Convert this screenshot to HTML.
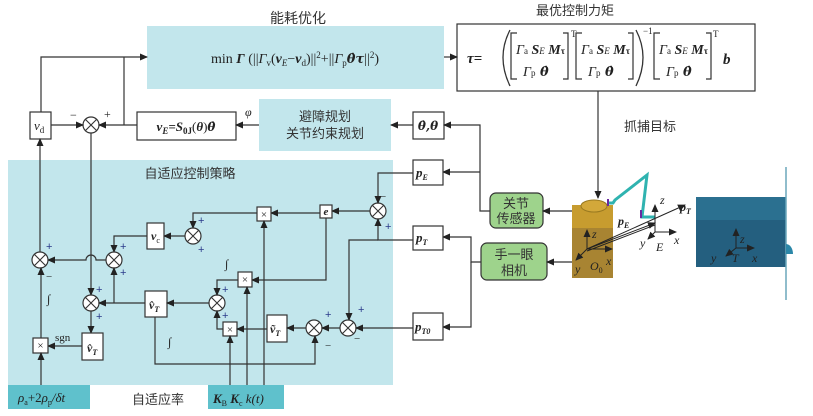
<!DOCTYPE html>
<html><head><meta charset="utf-8"><style>
body{margin:0;background:#fff}
svg{display:block}
text{font-family:"Liberation Serif","Noto Serif CJK SC",serif;fill:#222}
.cn{font-family:"Liberation Sans","Noto Sans CJK SC",sans-serif;fill:#333}
.dv{font-family:"DejaVu Serif",serif}
.l{stroke:#333;stroke-width:1.2;fill:none}
.b{fill:#fff;stroke:#333;stroke-width:1.2}
.pl{fill:#2a3a8a;font-family:"Liberation Sans",sans-serif;font-size:11px}
</style></head><body>
<svg width="813" height="416" viewBox="0 0 813 416" xmlns="http://www.w3.org/2000/svg">
<defs>
<marker id="a" markerWidth="8" markerHeight="8" refX="7" refY="4" orient="auto" markerUnits="userSpaceOnUse"><path d="M0,0.5 L8,4 L0,7.5 z" fill="#222"/></marker>
<g id="sx"><circle r="8" fill="#fff" stroke="#333" stroke-width="1.2"/><path d="M-5.6,-5.6 L5.6,5.6 M-5.6,5.6 L5.6,-5.6" stroke="#333" stroke-width="1.1"/></g>
</defs>

<rect x="8" y="160" width="385" height="225" fill="#c2e6ec"/>
<rect x="147" y="26" width="297" height="63" fill="#c2e6ec"/>
<rect x="259" y="99" width="132" height="52" fill="#c2e6ec"/>
<rect x="8" y="385" width="82" height="24" fill="#5fc1cc"/>
<rect x="208" y="385" width="76" height="24" fill="#5fc1cc"/>

<text class="cn" x="298" y="23" font-size="14" text-anchor="middle">能耗优化</text>
<text x="295" y="63" font-size="14" text-anchor="middle">min <tspan font-weight="bold" font-style="italic">Γ</tspan> (||<tspan font-style="italic">Γ</tspan><tspan font-size="9" dy="3">v</tspan><tspan dy="-3">(</tspan><tspan font-weight="bold" font-style="italic">v</tspan><tspan font-size="9" font-style="italic" dy="3">E</tspan><tspan dy="-3">−</tspan><tspan font-weight="bold" font-style="italic">v</tspan><tspan font-size="9" dy="3">d</tspan><tspan dy="-3">)||</tspan><tspan font-size="9" dy="-5">2</tspan><tspan dy="5">+||</tspan><tspan font-style="italic">Γ</tspan><tspan font-size="9" dy="3">p</tspan><tspan dy="-3" class="dv" font-weight="bold" font-style="italic" font-size="13">θ̇τ</tspan>||<tspan font-size="9" dy="-5">2</tspan><tspan dy="5">)</tspan></text>

<text class="cn" x="575" y="15" font-size="13" text-anchor="middle">最优控制力矩</text>
<rect class="b" x="457" y="24" width="298" height="67"/>
<text x="467" y="63" font-size="15" font-weight="bold" font-style="italic">τ=</text>
<path d="M510,30 Q496,57 510,86" fill="none" stroke="#333" stroke-width="1.3"/>
<path d="M636,30 Q650,57 636,86" fill="none" stroke="#333" stroke-width="1.3"/>
<g font-size="14">
<text x="516" y="54"><tspan font-style="italic">Γ</tspan><tspan font-size="9">a</tspan><tspan font-weight="bold" font-style="italic"> S</tspan><tspan font-size="9" font-style="italic">E</tspan><tspan font-weight="bold" font-style="italic"> M</tspan><tspan font-size="9" font-weight="bold">τ</tspan></text>
<text x="523" y="76"><tspan font-style="italic">Γ</tspan><tspan font-size="9">p</tspan><tspan class="dv" font-weight="bold" font-style="italic" font-size="13"> θ̇</tspan></text>
<text x="581" y="54"><tspan font-style="italic">Γ</tspan><tspan font-size="9">a</tspan><tspan font-weight="bold" font-style="italic"> S</tspan><tspan font-size="9" font-style="italic">E</tspan><tspan font-weight="bold" font-style="italic"> M</tspan><tspan font-size="9" font-weight="bold">τ</tspan></text>
<text x="588" y="76"><tspan font-style="italic">Γ</tspan><tspan font-size="9">p</tspan><tspan class="dv" font-weight="bold" font-style="italic" font-size="13"> θ̇</tspan></text>
<text x="659" y="54"><tspan font-style="italic">Γ</tspan><tspan font-size="9">a</tspan><tspan font-weight="bold" font-style="italic"> S</tspan><tspan font-size="9" font-style="italic">E</tspan><tspan font-weight="bold" font-style="italic"> M</tspan><tspan font-size="9" font-weight="bold">τ</tspan></text>
<text x="666" y="76"><tspan font-style="italic">Γ</tspan><tspan font-size="9">p</tspan><tspan class="dv" font-weight="bold" font-style="italic" font-size="13"> θ̇</tspan></text>
</g>
<path class="l" d="M517,33 h-6 v46 h6 M563,33 h5 v46 h-5 M582,33 h-6 v46 h6 M628,33 h5 v46 h-5 M660,33 h-6 v46 h6 M706,33 h5 v46 h-5"/>
<text x="571" y="37" font-size="9">T</text><text x="643" y="34" font-size="9">−1</text><text x="713" y="37" font-size="9">T</text>
<text x="723" y="64" font-size="15" font-weight="bold" font-style="italic">b</text>
<line class="l" x1="444" y1="57" x2="457" y2="57" marker-end="url(#a)"/>
<line class="l" x1="598" y1="91" x2="598" y2="198" marker-end="url(#a)"/>
<text class="cn" x="650" y="131" font-size="13" text-anchor="middle">抓捕目标</text>

<rect class="b" x="30" y="112" width="21" height="27"/>
<text x="34" y="130" font-size="13" font-style="italic">v<tspan font-size="9" font-style="normal" dy="3">d</tspan></text>
<use href="#sx" x="91" y="125"/>
<text x="70" y="119" font-size="12">−</text><text x="104" y="118" font-size="12" fill="#2a3a8a">+</text>
<path class="l" d="M41,112 V57 H147" marker-end="url(#a)"/>
<line class="l" x1="124" y1="57" x2="124" y2="125"/>
<line class="l" x1="51" y1="125" x2="83" y2="125" marker-end="url(#a)"/>
<line class="l" x1="137" y1="125" x2="99" y2="125" marker-end="url(#a)"/>
<rect class="b" x="137" y="112" width="99" height="28"/>
<text x="186" y="131" font-size="13" text-anchor="middle" font-weight="bold" font-style="italic">v<tspan font-size="9" dy="3">E</tspan><tspan dy="-3">=S</tspan><tspan font-size="9" font-style="normal" dy="3">0J</tspan><tspan dy="-3" font-weight="normal" font-style="normal">(</tspan>θ<tspan font-weight="normal" font-style="normal">)</tspan><tspan class="dv" font-size="12">θ̇</tspan></text>
<text x="245" y="116" font-size="12" font-style="italic">φ</text>
<line class="l" x1="259" y1="125" x2="236" y2="125" marker-end="url(#a)"/>
<text class="cn" x="325" y="121" font-size="13" text-anchor="middle">避障规划</text>
<text class="cn" x="325" y="138" font-size="13" text-anchor="middle">关节约束规划</text>
<line class="l" x1="413" y1="125" x2="391" y2="125" marker-end="url(#a)"/>
<rect class="b" x="413" y="112" width="31" height="27"/>
<text x="428" y="130" font-size="12" text-anchor="middle" font-weight="bold" font-style="italic" class="dv">θ̇,θ</text>

<path class="l" d="M490,211 H480 V125 H444" marker-end="url(#a)"/>
<line class="l" x1="480" y1="172" x2="443" y2="172" marker-end="url(#a)"/>
<rect class="b" x="413" y="160" width="30" height="25"/>
<text x="416" y="177" font-size="13" font-weight="bold" font-style="italic">p<tspan font-size="8" dy="3">E</tspan></text>
<rect x="490" y="193" width="53" height="35" rx="6" fill="#9ed38c" stroke="#333" stroke-width="1.2"/>
<text class="cn" x="516" y="208" font-size="13" text-anchor="middle">关节</text>
<text class="cn" x="516" y="223" font-size="13" text-anchor="middle">传感器</text>
<line class="l" x1="572" y1="211" x2="543" y2="211" marker-end="url(#a)"/>
<rect x="481" y="243" width="66" height="37" rx="6" fill="#9ed38c" stroke="#333" stroke-width="1.2"/>
<text class="cn" x="514" y="259" font-size="13" text-anchor="middle">手一眼</text>
<text class="cn" x="514" y="275" font-size="13" text-anchor="middle">相机</text>
<line class="l" x1="572" y1="262" x2="547" y2="262" marker-end="url(#a)"/>
<path class="l" d="M481,262 H471 V237 H443" marker-end="url(#a)"/>
<path class="l" d="M471,262 V327 H443" marker-end="url(#a)"/>
<rect class="b" x="413" y="226" width="30" height="24"/>
<text x="416" y="242" font-size="13" font-weight="bold" font-style="italic">p<tspan font-size="8" dy="3">T</tspan></text>
<rect class="b" x="413" y="313" width="30" height="27"/>
<text x="415" y="331" font-size="13" font-weight="bold" font-style="italic">p<tspan font-size="8" dy="3">T0</tspan></text>

<rect x="572" y="205" width="41" height="23" fill="#c79c2f"/>
<rect x="572" y="228" width="41" height="50" fill="#a88432"/>
<ellipse cx="594" cy="206" rx="13" ry="6" fill="#d3a83a" stroke="#9a7a20"/>
<polyline points="608,203 613,203 615,200 647,175 642,217 655,217" fill="none" stroke="#2fb3b0" stroke-width="3"/>
<path d="M608,199 v7 M641,210 v8" stroke="#6a2aa0" stroke-width="2"/>
<rect x="696" y="197" width="90" height="23" fill="#2b7090"/>
<rect x="696" y="220" width="90" height="47" fill="#245f7f"/>
<line x1="786" y1="167" x2="786" y2="300" stroke="#6ba7bc" stroke-width="1.5"/>
<path d="M786,244 a7,10 0 0 1 7,10 h-7z" fill="#2b87a8"/>
<g stroke="#222" stroke-width="1" fill="none">
<line x1="587" y1="249" x2="587" y2="230" marker-end="url(#a)"/>
<line x1="587" y1="249" x2="612" y2="249" marker-end="url(#a)"/>
<line x1="587" y1="249" x2="576" y2="260" marker-end="url(#a)"/>
<line x1="587" y1="249" x2="685" y2="205" marker-end="url(#a)"/>
<line x1="587" y1="249" x2="655" y2="223" marker-end="url(#a)"/>
<line x1="587" y1="251" x2="655" y2="225"/>
<line x1="655" y1="232" x2="655" y2="205" marker-end="url(#a)"/>
<line x1="655" y1="232" x2="676" y2="232" marker-end="url(#a)"/>
<line x1="655" y1="232" x2="648" y2="239" marker-end="url(#a)"/>
<line x1="736" y1="248" x2="736" y2="229" marker-end="url(#a)"/>
<line x1="736" y1="248" x2="754" y2="248" marker-end="url(#a)"/>
<line x1="736" y1="248" x2="726" y2="256" marker-end="url(#a)"/>
</g>
<g font-size="12" font-style="italic">
<text x="592" y="238">z</text><text x="606" y="265">x</text><text x="575" y="273">y</text><text x="590" y="270">O<tspan font-size="8" font-style="normal" dy="3">0</tspan></text>
<text x="660" y="204">z</text><text x="674" y="244">x</text><text x="640" y="247">y</text><text x="656" y="251">E</text>
<text x="618" y="225" font-weight="bold">p<tspan font-size="8" dy="3">E</tspan></text>
<text x="680" y="211" font-weight="bold">p<tspan font-size="8" dy="3">T</tspan></text>
<text x="740" y="243" fill="#111">z</text><text x="752" y="262" fill="#111">x</text><text x="711" y="262" fill="#111">y</text><text x="732" y="262" fill="#111">T</text>
</g>

<text class="cn" x="190" y="178" font-size="13" text-anchor="middle">自适应控制策略</text>
<use href="#sx" x="378" y="211"/>
<text x="380" y="200" font-size="11">−</text><text x="385" y="230" class="pl">+</text>
<path class="l" d="M413,173 H378 V203" marker-end="url(#a)"/>
<path class="l" d="M413,240 H378 V219" marker-end="url(#a)"/>
<path class="l" d="M378,240 H349 V320" marker-end="url(#a)"/>
<line class="l" x1="370" y1="211" x2="332" y2="211" marker-end="url(#a)"/>
<rect class="b" x="320" y="205" width="12" height="13"/>
<text x="326" y="215" font-size="11" text-anchor="middle" font-weight="bold" font-style="italic">e</text>
<line class="l" x1="320" y1="213" x2="271" y2="213" marker-end="url(#a)"/>
<rect class="b" x="257" y="207" width="14" height="14"/>
<text x="264" y="218" font-size="11" text-anchor="middle">×</text>
<path class="l" d="M257,213 H193 V228" marker-end="url(#a)"/>
<use href="#sx" x="193" y="236"/>
<text x="198" y="224" class="pl">+</text><text x="198" y="253" class="pl">+</text>
<line class="l" x1="185" y1="236" x2="164" y2="236" marker-end="url(#a)"/>
<rect class="b" x="147" y="223" width="17" height="26"/>
<text x="151" y="240" font-size="12" font-weight="bold" font-style="italic">v<tspan font-size="8" font-style="normal" font-weight="normal" dy="3">c</tspan></text>
<path class="l" d="M147,236 H114 V252" marker-end="url(#a)"/>
<use href="#sx" x="114" y="260"/>
<text x="120" y="250" class="pl">+</text><text x="120" y="276" class="pl">+</text>
<path class="l" d="M106,260 H96 A5,5 0 0 0 86,260 H48" marker-end="url(#a)"/>
<use href="#sx" x="40" y="260"/>
<text x="46" y="250" class="pl">+</text><text x="46" y="280" font-size="11">−</text>
<line class="l" x1="40" y1="252" x2="40" y2="139" marker-end="url(#a)"/>
<line class="l" x1="91" y1="133" x2="91" y2="295" marker-end="url(#a)"/>
<use href="#sx" x="91" y="303"/>
<text x="96" y="293" class="pl">+</text><text x="96" y="320" class="pl">+</text>
<line class="l" x1="114" y1="303" x2="114" y2="268" marker-end="url(#a)"/>
<line class="l" x1="145" y1="303" x2="99" y2="303" marker-end="url(#a)"/>
<line class="l" x1="91" y1="311" x2="91" y2="333" marker-end="url(#a)"/>
<rect class="b" x="82" y="333" width="21" height="27"/>
<text x="87" y="352" font-size="12" font-weight="bold" font-style="italic">v̂<tspan font-size="8" dy="3">T</tspan></text>
<text x="55" y="341" font-size="11">sgn</text>
<line class="l" x1="82" y1="346" x2="48" y2="346" marker-end="url(#a)"/>
<rect class="b" x="33" y="338" width="15" height="15"/>
<text x="40.5" y="349" font-size="11" text-anchor="middle">×</text>
<line class="l" x1="41" y1="338" x2="41" y2="268" marker-end="url(#a)"/>
<text x="47" y="303" font-size="12" font-style="italic">∫</text>
<line class="l" x1="41" y1="385" x2="41" y2="353" marker-end="url(#a)"/>
<rect class="b" x="145" y="291" width="22" height="26"/>
<text x="149" y="309" font-size="12" font-weight="bold" font-style="italic">v̂<tspan font-size="8" dy="3">T</tspan></text>
<line class="l" x1="209" y1="303" x2="167" y2="303" marker-end="url(#a)"/>
<use href="#sx" x="217" y="303"/>
<text x="222" y="293" class="pl">+</text><text x="222" y="319" class="pl">+</text>
<path class="l" d="M326,218 V280 H252" marker-end="url(#a)"/>
<rect class="b" x="238" y="272" width="14" height="15"/>
<text x="245" y="283" font-size="11" text-anchor="middle">×</text>
<path class="l" d="M238,280 H217 V295" marker-end="url(#a)"/>
<text x="225" y="268" font-size="12" font-style="italic">∫</text>
<rect class="b" x="223" y="322" width="14" height="14"/>
<text x="230" y="333" font-size="11" text-anchor="middle">×</text>
<path class="l" d="M223,329 H217 V311" marker-end="url(#a)"/>
<line class="l" x1="267" y1="329" x2="237" y2="329" marker-end="url(#a)"/>
<rect class="b" x="267" y="315" width="20" height="27"/>
<text x="270" y="333" font-size="12" font-weight="bold" font-style="italic">ṽ<tspan font-size="8" dy="3">T</tspan></text>
<line class="l" x1="306" y1="328" x2="287" y2="328" marker-end="url(#a)"/>
<use href="#sx" x="314" y="328"/>
<text x="325" y="318" class="pl">+</text><text x="325" y="349" font-size="11">−</text>
<line class="l" x1="340" y1="328" x2="322" y2="328" marker-end="url(#a)"/>
<use href="#sx" x="348" y="328"/>
<text x="358" y="313" class="pl">+</text><text x="354" y="342" font-size="11">−</text>
<line class="l" x1="413" y1="328" x2="356" y2="328" marker-end="url(#a)"/>
<path class="l" d="M155,317 V364 H315 V336" marker-end="url(#a)"/>
<text x="168" y="346" font-size="12" font-style="italic">∫</text>
<line class="l" x1="230" y1="385" x2="230" y2="336" marker-end="url(#a)"/>
<line class="l" x1="247" y1="385" x2="247" y2="287" marker-end="url(#a)"/>
<line class="l" x1="264" y1="385" x2="264" y2="221" marker-end="url(#a)"/>

<text x="18" y="402" font-size="13" font-style="italic">ρ<tspan font-size="8" font-style="normal" dy="3">a</tspan><tspan font-style="normal" dy="-3">+2</tspan>ρ<tspan font-size="8" font-style="normal" dy="3">p</tspan><tspan dy="-3">/δt</tspan></text>
<text class="cn" x="158" y="404" font-size="13" text-anchor="middle">自适应率</text>
<text x="213" y="403" font-size="13" font-style="italic"><tspan font-weight="bold">K</tspan><tspan font-size="8" font-style="normal" dy="3">B</tspan><tspan dy="-3" font-weight="bold"> K</tspan><tspan font-size="8" font-style="normal" dy="3">c</tspan><tspan dy="-3"> k(t)</tspan></text>
</svg>
</body></html>
